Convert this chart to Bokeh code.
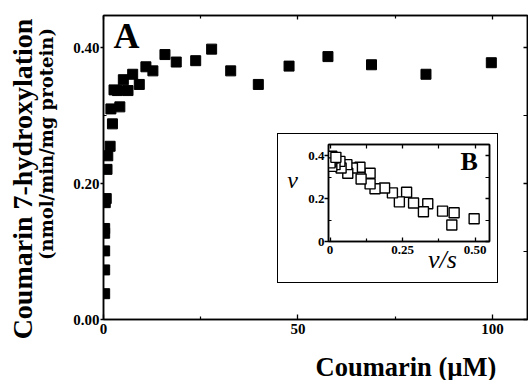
from math import pi
from bokeh.plotting import figure
from bokeh.models import FixedTicker, LinearAxis, Label, Range1d, PrintfTickFormatter
from bokeh.layouts import column
from bokeh.embed import file_html
from bokeh.resources import INLINE

# ---- Panel A data: coumarin concentration (uM) vs rate (nmol/min/mg protein)
conc = [0.3, 0.3, 0.3, 0.3, 0.3, 0.45, 0.7, 0.9, 1.1, 1.7, 2.3, 1.9, 4.2, 2.7, 3.6,
        6.3, 5.1, 7.5, 9.2, 10.9, 12.7, 15.8, 18.7, 23.7, 27.8, 32.7, 39.8, 47.7,
        57.7, 68.9, 82.9, 99.7]
rate = [0.038, 0.073, 0.101, 0.127, 0.134, 0.172, 0.178, 0.221, 0.241, 0.255, 0.288,
        0.310, 0.313, 0.338, 0.337, 0.337, 0.353, 0.361, 0.346, 0.372, 0.366, 0.390,
        0.379, 0.381, 0.398, 0.366, 0.346, 0.373, 0.387, 0.375, 0.361, 0.378]

# ---- Panel B data: Eadie-Hofstee (v/s vs v)
vs = [0.497, 0.428, 0.420, 0.388, 0.337, 0.322, 0.288, 0.264, 0.239, 0.215, 0.188,
      0.155, 0.138, 0.138, 0.107, 0.103, 0.077, 0.061, 0.058, 0.038, 0.034, 0.017,
      0.012, 0.006, 0.003, 0.006, 0.000, 0.020]
v = [0.106, 0.134, 0.077, 0.142, 0.176, 0.139, 0.180, 0.230, 0.185, 0.227, 0.250,
     0.246, 0.269, 0.319, 0.292, 0.347, 0.343, 0.319, 0.359, 0.343, 0.374, 0.359,
     0.390, 0.351, 0.374, 0.398, 0.367, 0.393]

a_xticks = [0, 50, 100]
a_xminor = [25, 75]
a_yticks = [0.0, 0.2, 0.4]
a_yminor = [0.1, 0.3]
b_xticks = [0, 0.25, 0.5]
b_xminor = [0.125, 0.375]
b_yticks = [0, 0.2, 0.4]
b_yminor = [0.1, 0.3]
b_xlabels = {0: "0", 0.25: "0.25", 0.5: "0.50"}
b_ylabels = {0: "0", 0.2: "0.2", 0.4: "0.4"}

title_x = "Coumarin (\u00b5M)"
title_y = "Coumarin 7-hydroxylation"
title_y_unit = "(nmol/min/mg protein)"

SERIF = "Liberation Serif"
W, H = 528, 380


def no_frame_align(fig):
    try:
        fig.frame_align = False
    except Exception:
        pass


def style_axis(ax, ticks, minor, tick_in, tick_out, minor_in, size="15px", show_labels=True):
    ax.ticker = FixedTicker(ticks=ticks, minor_ticks=minor)
    ax.axis_line_color = "black"
    ax.axis_line_width = 1.5
    ax.major_tick_line_color = "black"
    ax.major_tick_line_width = 1.3
    ax.minor_tick_line_color = "black"
    ax.minor_tick_line_width = 1.2
    ax.major_tick_in = tick_in
    ax.major_tick_out = tick_out
    ax.minor_tick_in = minor_in
    ax.minor_tick_out = 0
    ax.major_label_text_font = SERIF
    ax.major_label_text_font_style = "bold"
    ax.major_label_text_color = "black"
    ax.major_label_text_font_size = size
    if not show_labels:
        ax.major_label_overrides = {t: "" for t in ticks}
        ax.major_label_text_font_size = "1px"
        ax.major_label_standoff = 0


# ---- Main panel A
p = figure(width=W, height=H, x_range=Range1d(0, 109), y_range=Range1d(0, 0.4475),
           output_backend="svg", toolbar_location=None,
           min_border_left=103, min_border_right=1, min_border_top=15, min_border_bottom=61)
no_frame_align(p)
p.background_fill_color = "white"
p.border_fill_color = "white"
p.outline_line_color = "black"
p.outline_line_width = 1.5
p.xgrid.visible = False
p.ygrid.visible = False

style_axis(p.xaxis[0], a_xticks, a_xminor, 5, 0, 3)
p.xaxis[0].major_label_standoff = 4
style_axis(p.yaxis[0], a_yticks, a_yminor, 0, 3, 3)
p.yaxis[0].major_label_standoff = 1
p.yaxis[0].formatter = PrintfTickFormatter(format="%.2f")

ra = LinearAxis()
style_axis(ra, a_yticks, a_yminor, 4, 0, 4, show_labels=False)
p.add_layout(ra, "right")
ta = LinearAxis()
style_axis(ta, a_xticks, a_xminor, 4, 0, 3, show_labels=False)
p.add_layout(ta, "above")

p.scatter(conc, rate, marker="square", size=10, fill_color="black", line_color="black")

# ---- Inset B
ins = figure(width=221, height=150, x_range=Range1d(-0.0055, 0.55), y_range=Range1d(0, 0.453),
             output_backend="svg", toolbar_location=None,
             min_border_left=50, min_border_right=10, min_border_top=10, min_border_bottom=43)
no_frame_align(ins)
ins.background_fill_color = "white"
ins.border_fill_color = "white"
ins.outline_line_color = "black"
ins.outline_line_width = 1.5
ins.xgrid.visible = False
ins.ygrid.visible = False
style_axis(ins.xaxis[0], b_xticks, b_xminor, 4, 0, 3, size="13px")
ins.xaxis[0].major_label_overrides = b_xlabels
ins.xaxis[0].major_label_standoff = 4
style_axis(ins.yaxis[0], b_yticks, b_yminor, 0, 4, 3, size="13px")
ins.yaxis[0].major_label_overrides = b_ylabels
ins.yaxis[0].major_label_standoff = 0
rb = LinearAxis()
style_axis(rb, b_yticks, b_yminor, 4, 0, 4, show_labels=False)
ins.add_layout(rb, "right")
tb = LinearAxis()
style_axis(tb, b_xticks, b_xminor, 4, 0, 4, show_labels=False)
ins.add_layout(tb, "above")

ins.scatter(vs, v, marker="square", size=10, fill_color="white", line_color="black",
            line_width=1.4)
ins.margin = (-247, 0, 0, 277)
ins.styles = {"border": "1.5px solid black"}

# ---- Transparent overlay carrying the free texts
txt = figure(width=W, height=H, x_range=Range1d(0, 1), y_range=Range1d(0, 1),
             output_backend="svg", toolbar_location=None, min_border=0,
             x_axis_location=None, y_axis_location=None)
no_frame_align(txt)
txt.background_fill_color = None
txt.border_fill_color = None
txt.outline_line_color = None
txt.xgrid.visible = False
txt.ygrid.visible = False
txt.margin = (-283, 0, 0, 0)


def lab(x, y, text, font, style, size, align="left", baseline="middle", angle=0.0):
    txt.add_layout(Label(x=x, y=y, x_units="screen", y_units="screen", text=text,
                         text_font=font, text_font_style=style, text_font_size=size,
                         text_align=align, text_baseline=baseline, angle=angle,
                         text_color="black"))


lab(113, H - 35, "A", SERIF, "bold", "36px")
lab(315, H - 366, title_x, SERIF, "bold", "26.5px")
lab(22, H - 178.5, title_y, SERIF, "bold", "28px", "center", "middle", pi / 2)
lab(46, H - 143.5, title_y_unit, "DejaVu Serif", "bold", "18px", "center", "middle", pi / 2)
lab(460, H - 161, "B", SERIF, "bold", "26px")
lab(292, H - 179.5, "v", SERIF, "italic", "24px", "center", "middle")
lab(442, H - 259, "v/s", SERIF, "italic", "26px", "center", "middle")

layout = column(p, ins, txt)
open("out.html", "w").write(file_html(layout, INLINE))
